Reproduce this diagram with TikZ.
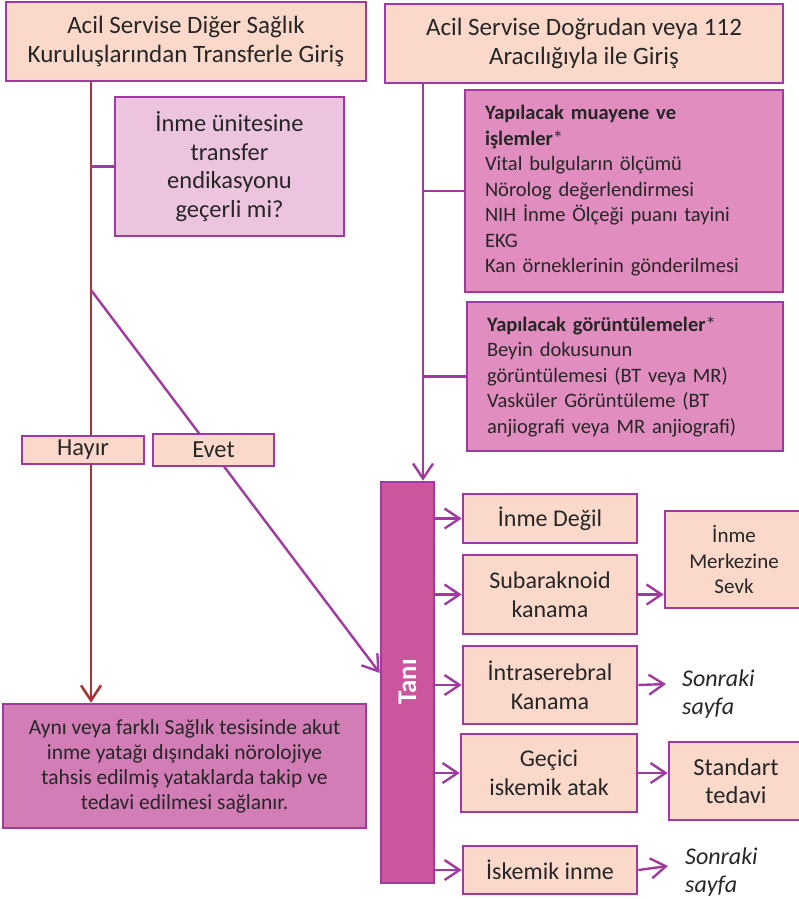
\documentclass[tikz,border=0pt]{standalone}
\usepackage{fontspec}
\setmainfont{Carlito}
\usetikzlibrary{arrows.meta,backgrounds,calc}
\definecolor{edge}{HTML}{A03AA0}
\definecolor{peach}{HTML}{FBD9CA}
\definecolor{lightpink}{HTML}{EDC4DF}
\definecolor{midpink}{HTML}{E18DBF}
\definecolor{lowpink}{HTML}{D27DB6}
\definecolor{tanifill}{HTML}{CC569E}
\definecolor{redline}{HTML}{A83535}
\definecolor{ink}{HTML}{262626}
\begin{document}
\begin{tikzpicture}[x=1pt,y=-1pt,
  box/.style={draw=edge, line width=2.6pt, fill=peach, text=ink, inner sep=0pt,
              align=center, font=\fontsize{24.5}{28.6}\selectfont},
  sz/.style 2 args={minimum width=#1pt, minimum height=#2pt},
  listbox/.style={box, fill=midpink, align=left, inner xsep=20pt,
              font=\fontsize{20.5}{25.5}\selectfont},
  conn/.style={draw=edge, line width=2.4pt},
  arr/.style={conn, -{Straight Barb[length=15pt,width=20pt]}},
  redarr/.style={draw=redline, line width=2.6pt, -{Straight Barb[length=15pt,width=20pt]}}]
\useasboundingbox (0,0) rectangle (799,899);

% entry boxes
\node[box, sz={360}{79}, font=\fontsize{25}{29}\selectfont] (topL) at (186,41.5) {Acil Servise Diğer Sağlık\\Kuruluşlarından Transferle Giriş};
\node[box, sz={398}{79}, font=\fontsize{25}{29}\selectfont] (topR) at (584,43.5) {Acil Servise Doğrudan veya 112\\Aracılığıyla ile Giriş};

% transfer question
\node[box, fill=lightpink, sz={229}{139}] (q) at (229.5,166.5) {İnme ünitesine\\transfer\\endikasyonu\\geçerli mi?};

% examinations and imaging
\node[listbox, text width=278pt, minimum height=202pt] (exam) at (624,191)
  {\textbf{Yapılacak muayene ve}\\\textbf{işlemler}*\\Vital bulguların ölçümü\\Nörolog değerlendirmesi\\NIH İnme Ölçeği puanı tayini\\EKG\\Kan örneklerinin gönderilmesi};
\node[listbox, text width=276pt, minimum height=149pt] (img) at (625,376.5)
  {\textbf{Yapılacak görüntülemeler}*\\Beyin dokusunun\\görüntülemesi (BT veya MR)\\Vasküler Görüntüleme (BT\\anjiografi veya MR anjiografi)};

% answers
\node[box, sz={122}{28}] (no) at (83,450) {Hayır};
\node[box, sz={121}{32}] (yes) at (213.5,450) {Evet};

% follow-up in neurology beds
\node[box, fill=lowpink, sz={363}{124}, font=\fontsize{21.5}{25}\selectfont] (ward) at (184.5,766)
  {Aynı veya farklı Sağlık tesisinde akut\\inme yatağı dışındaki nörolojiye\\tahsis edilmiş yataklarda takip ve\\tedavi edilmesi sağlanır.};

% diagnosis bar
\node[box, fill=tanifill, sz={53}{401}] (tani) at (407.5,682.5) {};
\node[rotate=90, text=white, font=\fontsize{27}{30}\selectfont\bfseries] (tanilabel) at ($(tani.center)+(0,-0.5)$) {Tanı};

% diagnoses
\node[box, sz={174}{49}, font=\fontsize{24}{29}\selectfont] (d1) at (550,518.5) {İnme Değil};
\node[box, sz={174}{79}, font=\fontsize{24}{29}\selectfont] (d2) at (550,594.5) {Subaraknoid\\kanama};
\node[box, sz={174}{78}, font=\fontsize{24}{29}\selectfont] (d3) at (550,685) {İntraserebral\\Kanama};
\node[box, sz={176}{78}, font=\fontsize{24}{29}\selectfont] (d4) at (549,773) {Geçici\\iskemik atak};
\node[box, sz={174}{48}, font=\fontsize{24}{29}\selectfont] (d5) at (550,870) {İskemik inme};

% outcomes
\node[box, sz={138}{97}, font=\fontsize{21}{25.7}\selectfont] (sevk) at (734,559.5) {İnme\\Merkezine\\Sevk};
\node[box, sz={134}{78}] (std) at (736,781) {Standart\\tedavi};
\node[anchor=west, align=left, inner sep=0pt, text=ink, font=\fontsize{24}{28}\selectfont\itshape] (next1) at (682,694) {Sonraki\\sayfa};
\node[anchor=west, align=left, inner sep=0pt, text=ink, font=\fontsize{24}{28}\selectfont\itshape] (next2) at (685,872) {Sonraki\\sayfa};

\coordinate (redtop) at (91,81);
\coordinate (yesstart) at (91,290);
\coordinate (purtop) at (423,83);
\coordinate (end1) at (666,684);
\coordinate (end2) at (668,866);

\begin{scope}[on background layer]
  % transfer branch
  \draw[redarr] (redtop) -- (redtop |- ward.north);
  \draw[conn] (redtop |- q.west) -- (q.west);
  \draw[arr] (yesstart) -- ($(tani.west)+(0,-9.5)$);
  % direct admission branch
  \draw[arr] (purtop) -- (purtop |- tani.north);
  \draw[conn] (purtop |- exam.west) -- (exam.west);
  \draw[conn] (purtop |- img.west) -- (img.west);
\end{scope}

% diagnosis arrows
\draw[arr] (tani.east |- d1.west) -- (d1.west);
\draw[arr] (tani.east |- d2.west) -- (d2.west);
\draw[arr] (tani.east |- d3.west) -- (d3.west);
\draw[arr] (tani.east |- d4.west) -- (d4.west);
\draw[arr] (tani.east |- d5.west) -- (d5.west);

% outcome arrows
\draw[arr] (d2.east) -- (d2.east -| sevk.west);
\draw[arr] (d3.east) -- (end1);
\draw[arr] (d4.east) -- (d4.east -| std.west);
\draw[arr] (d5.east) -- (end2);
\end{tikzpicture}
\end{document}
